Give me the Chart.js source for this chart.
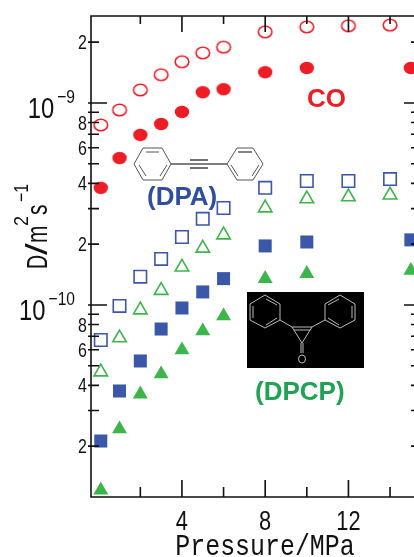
<!DOCTYPE html>
<html>
<head>
<meta charset="utf-8">
<title>Diffusion coefficient vs pressure</title>
<script src="https://cdn.jsdelivr.net/npm/chart.js@4"></script>
<style>
  html, body { margin: 0; padding: 0; background: #fff; overflow: hidden; width: 414px; height: 557px; }
  #wrap { position: relative; width: 414px; height: 557px; overflow: hidden; }
  canvas { position: absolute; left: 0; top: 0; }
  svg { position: absolute; left: 0; top: 0; }
  .name { position: absolute; font: bold 26px "Liberation Sans", Arial, sans-serif; white-space: nowrap; line-height: 1; }
</style>
</head>
<body>
<div id="wrap">
  <canvas id="chart" width="430" height="557"></canvas>
  <svg width="414" height="557" fill="none" stroke="#555" stroke-width="1">
    <!-- DPA -->
    <polygon points="134,164 143,148 162,148 171,164 162,180 143,180" />
    <path d="M146,152H159M146,176L139,165M160,176L167,165" />
    <path d="M171,164H227" stroke="#000" />
    <path d="M190,160H208M190,168H208" stroke="#444" stroke-width="1.3" />
    <polygon points="227,164 237,148 253,148 263,164 253,180 237,180" />
    <path d="M238,152H252" stroke-width="1.8" stroke="#777" />
    <path d="M238,176L231,165M252,176L259,165" />
    <!-- DPCP -->
    <rect x="247" y="292" width="117" height="76" fill="#000" stroke="none" />
    <g stroke="#bbb">
      <polygon points="265,295 280,304 280,320 265,328 250,320 250,304" />
      <path d="M266,299L277,305M277,318L266,325M253,318V306" />
      <polygon points="340,295 355,304 355,320 340,328 325,320 325,304" />
      <path d="M339,299L328,305M328,318L339,325M352,318V306" />
      <path d="M280,320L292,327M325,320L312,327" />
      <polygon points="292,327 312,327 302,343" />
      <path d="M294,330H310M301,343V353M303,343V353" />
      <ellipse cx="302" cy="359" rx="3.5" ry="4" />
    </g>
  </svg>
  <div class="name" style="left:307px;top:85px;color:#ee1c25">CO</div>
  <div class="name" style="left:147px;top:183px;color:#2f4ea0">(DPA)</div>
  <div class="name" style="left:255px;top:378px;color:#1fa352">(DPCP)</div>
</div>
<script>
const PLOT_LEFT = 91;
const PLOT_RIGHT = 420;
const PLOT_TOP = 16;
const PLOT_BOTTOM = 497;

const pressure = [0.1, 1, 2, 3, 4, 5, 6, 8, 10, 12, 14];
const pressureFilled = [0.1, 1, 2, 3, 4, 5, 6, 8, 10, 15];

const coOpen = [7.78e-10, 9.23e-10, 1.16e-9, 1.38e-9, 1.6e-9, 1.77e-9, 1.89e-9, 2.25e-9, 2.38e-9, 2.41e-9, 2.43e-9];
const coFilled = [3.8e-10, 5.34e-10, 6.95e-10, 7.87e-10, 9.03e-10, 1.13e-9, 1.17e-9, 1.42e-9, 1.49e-9, 1.49e-9];
const dpaOpen = [6.71e-11, 9.89e-11, 1.38e-10, 1.69e-10, 2.17e-10, 2.67e-10, 3.02e-10, 3.8e-10, 4.11e-10, 4.11e-10, 4.2e-10];
const dpcpOpen = [4.66e-11, 6.87e-11, 9.44e-11, 1.18e-10, 1.54e-10, 1.91e-10, 2.22e-10, 3.02e-10, 3.35e-10, 3.43e-10, 3.5e-10];
const dpaFilled = [2.12e-11, 3.75e-11, 5.28e-11, 7.6e-11, 9.66e-11, 1.16e-10, 1.35e-10, 1.96e-10, 2.05e-10, 2.1e-10];
const dpcpFilled = [1.21e-11, 2.43e-11, 3.62e-11, 4.55e-11, 5.98e-11, 7.43e-11, 8.81e-11, 1.35e-10, 1.43e-10, 1.48e-10];

const xMajorTicks = [4, 8, 12];
const xMinorTicks = [2, 6, 10, 14];
const yLabelTicks = [2e-11, 4e-11, 6e-11, 8e-11, 2e-10, 4e-10, 6e-10, 8e-10, 2e-9];
const yLabels = ["2", "4", "6", "8", "2", "4", "6", "8", "2"];
const yMinorTicks = [2e-11, 3e-11, 4e-11, 5e-11, 6e-11, 7e-11, 8e-11, 9e-11,
  2e-10, 3e-10, 4e-10, 5e-10, 6e-10, 7e-10, 8e-10, 9e-10, 2e-9];
const yDecades = [1e-10, 1e-9];
const yDecadeExponents = ["\u221210", "\u22129"];

const RED = "#ee1c25";
const BLUE = "#3a57a8";
const GREEN = "#3cb54a";
const INK = "#111";
const SANS = '"Liberation Sans", Arial, sans-serif';
const MONO = '"Liberation Mono", monospace';

// the circles in the picture are a bit wider than tall
function ellipseMarker(filled) {
  const c = document.createElement("canvas");
  c.width = 18;
  c.height = 16;
  const g = c.getContext("2d");
  g.beginPath();
  g.ellipse(9, 8, filled ? 7.2 : 6.8, filled ? 6.2 : 5.7, 0, 0, Math.PI * 2);
  g.lineWidth = 1.6;
  g.strokeStyle = RED;
  g.fillStyle = RED;
  if (filled) g.fill(); else g.stroke();
  return c;
}

function points(xs, ys) {
  return xs.map((x, i) => ({ x, y: ys[i] }));
}

function dataset(label, xs, ys, pointStyle, radius, filled, color) {
  return {
    label,
    data: points(xs, ys),
    showLine: false,
    pointStyle,
    pointRadius: radius,
    pointBackgroundColor: filled ? color : "rgba(0,0,0,0)",
    pointBorderColor: color,
    pointBorderWidth: filled ? 0 : 1.6,
    clip: false
  };
}

// the original lettering is tall and narrow, none of the installed fonts is
function narrowText(ctx, text, x, y, font, squeeze, align) {
  ctx.save();
  ctx.font = font;
  ctx.textAlign = align || "left";
  ctx.translate(x, y);
  ctx.scale(squeeze, 1);
  ctx.fillText(text, 0, 0);
  ctx.restore();
}

/*
 FRAME, INWARD TICKS, LABELS, AXIS TITLES
*/
const framePlugin = {
  id: "frame",
  afterDatasetsDraw(chart) {
    const ctx = chart.ctx;
    const x = chart.scales.x;
    const y = chart.scales.y;
    ctx.save();
    ctx.strokeStyle = INK;
    ctx.lineWidth = 1.6;
    ctx.beginPath();
    ctx.rect(PLOT_LEFT, PLOT_TOP, PLOT_RIGHT - PLOT_LEFT, PLOT_BOTTOM - PLOT_TOP);

    xMajorTicks.forEach(v => {
      const px = x.getPixelForValue(v);
      ctx.moveTo(px, PLOT_BOTTOM); ctx.lineTo(px, PLOT_BOTTOM - 17);
      ctx.moveTo(px, PLOT_TOP); ctx.lineTo(px, PLOT_TOP + 16);
    });
    xMinorTicks.forEach(v => {
      const px = x.getPixelForValue(v);
      ctx.moveTo(px, PLOT_BOTTOM); ctx.lineTo(px, PLOT_BOTTOM - 10);
      ctx.moveTo(px, PLOT_TOP); ctx.lineTo(px, PLOT_TOP + 8);
    });
    yMinorTicks.forEach(v => {
      const py = y.getPixelForValue(v);
      ctx.moveTo(PLOT_LEFT - 3, py); ctx.lineTo(PLOT_LEFT + 8, py);
      ctx.moveTo(PLOT_RIGHT, py); ctx.lineTo(PLOT_RIGHT - 9, py);
    });
    yDecades.forEach(v => {
      const py = y.getPixelForValue(v);
      ctx.moveTo(PLOT_LEFT - 3, py); ctx.lineTo(PLOT_LEFT + 16, py);
      ctx.moveTo(PLOT_RIGHT, py); ctx.lineTo(PLOT_RIGHT - 16, py);
    });
    ctx.stroke();

    ctx.fillStyle = INK;
    ctx.textBaseline = "alphabetic";

    // tick labels
    xMajorTicks.forEach(v => {
      narrowText(ctx, String(v), x.getPixelForValue(v), 530, "28px " + SANS, 0.78, "center");
    });
    yLabelTicks.forEach((v, i) => {
      narrowText(ctx, yLabels[i], 87, y.getPixelForValue(v) + 7, "20px " + SANS, 0.8, "right");
    });
    yDecades.forEach((v, i) => {
      const py = y.getPixelForValue(v);
      narrowText(ctx, yDecadeExponents[i], 75, py, "19px " + SANS, 0.82, "right");
      ctx.font = "19px " + SANS;
      const w = ctx.measureText(yDecadeExponents[i]).width * 0.82;
      narrowText(ctx, "10", 75 - w - 3, py + 15, "29px " + SANS, 0.82, "right");
    });

    // x title
    narrowText(ctx, "Pressure/MPa", 265, 555, "30px " + MONO, 0.83, "center");

    // y title is set in pieces, it has superscripts
    ctx.translate(47, 269);
    ctx.rotate(-Math.PI / 2);
    const big = "30px " + SANS;
    const small = "20px " + SANS;
    narrowText(ctx, "D", 0, 0, big, 0.65);
    narrowText(ctx, "/", 14, 0, big, 1.4);
    narrowText(ctx, "m", 26, 0, big, 0.7);
    narrowText(ctx, "2", 43, -19, small, 0.9);
    narrowText(ctx, "s", 54, 0, big, 0.7);
    narrowText(ctx, "\u22121", 67, -19, small, 0.8);
    ctx.restore();
  }
};

new Chart(document.getElementById("chart"), {
  type: "scatter",
  data: {
    datasets: [
      dataset("CO open", pressure, coOpen, ellipseMarker(false), 7, false, RED),
      dataset("CO filled", pressureFilled, coFilled, ellipseMarker(true), 7, true, RED),
      dataset("DPA open", pressure, dpaOpen, "rect", 8.8, false, BLUE),
      dataset("DPCP open", pressure, dpcpOpen, "triangle", 7.8, false, GREEN),
      dataset("DPA filled", pressureFilled, dpaFilled, "rect", 9.2, true, BLUE),
      dataset("DPCP filled", pressureFilled, dpcpFilled, "triangle", 8.6, true, GREEN)
    ]
  },
  options: {
    responsive: false,
    animation: false,
    events: [],
    layout: { padding: { top: PLOT_TOP, right: 430 - PLOT_RIGHT, left: 0, bottom: 0 } },
    plugins: { legend: { display: false }, tooltip: { enabled: false } },
    scales: {
      x: {
        type: "linear",
        min: -0.37,
        max: 15.42,
        grid: { display: false, drawTicks: false },
        border: { display: false },
        afterFit: scale => { scale.height = 557 - PLOT_BOTTOM; },
        ticks: { display: false }
      },
      y: {
        type: "logarithmic",
        min: 1.12e-11,
        max: 2.695e-9,
        grid: { display: false, drawTicks: false },
        border: { display: false },
        afterFit: scale => { scale.width = PLOT_LEFT; },
        ticks: { display: false }
      }
    }
  },
  plugins: [framePlugin]
});
</script>
</body>
</html>
